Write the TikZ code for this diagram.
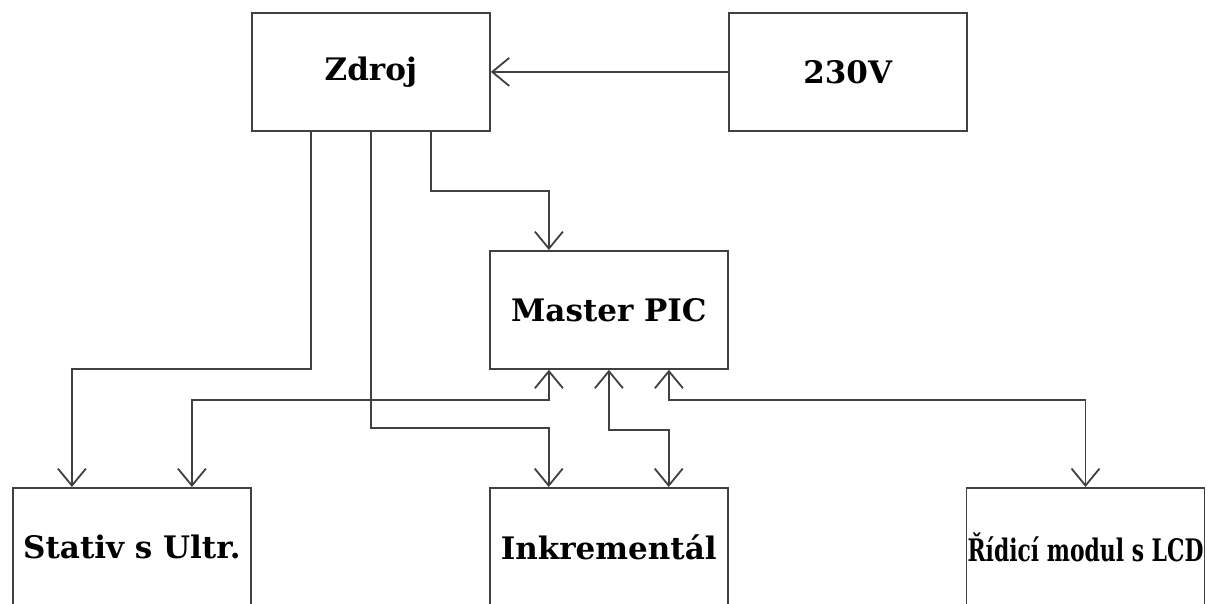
\documentclass[tikz,border=0pt]{standalone}
\usepackage{fontspec}
\setmainfont{DejaVu Serif}
\usepackage{graphicx}
\usetikzlibrary{arrows.meta,positioning}

\begin{document}
\begin{tikzpicture}[
  x=1pt, y=-1pt,
  block/.style={rectangle, draw=black!75, line width=1.8pt, minimum width=238pt, minimum height=118pt, inner sep=0pt, align=center, font=\fontsize{31}{36}\selectfont\bfseries},
  arrow/.style={-{Straight Barb[length=17pt,width=28pt]}, draw=black!75, line width=1.8pt},
  dblarrow/.style={{Straight Barb[length=17pt,width=28pt]}-{Straight Barb[length=17pt,width=28pt]}, draw=black!75, line width=1.8pt}
]
\useasboundingbox (0,0) rectangle (1207,603);
\node[block, anchor=north west] (zdroj) at (251,12) {Zdroj};
\node[block, right=237pt of zdroj] (sit) {230V};
\node[block, anchor=north west] (master) at (489,250) {Master PIC};
\node[block, anchor=north west] (stativ) at (12,487) {Stativ s Ultr.};
\node[block, right=237pt of stativ] (inkr) {Inkrementál};
\node[block, right=237pt of inkr] (ridici) {\resizebox{236pt}{\height}{Řídicí modul s LCD}};
\draw[arrow] (sit) -- (zdroj);
\draw[arrow] ([xshift=60pt]zdroj.south) -- ++(0,59) -| ([xshift=-60pt]master.north);
\draw[arrow] ([xshift=-60pt]zdroj.south) -- ++(0,237) -| ([xshift=-60pt]stativ.north);
\draw[arrow] (zdroj.south) -- ++(0,296) -| ([xshift=-60pt]inkr.north);
\draw[dblarrow] ([xshift=-60pt]master.south) -- ++(0,30) -| ([xshift=60pt]stativ.north);
\draw[dblarrow] (master.south) -- ++(0,60) -| ([xshift=60pt]inkr.north);
\draw[dblarrow] ([xshift=60pt]master.south) -- ++(0,30) -| (ridici.north);
\end{tikzpicture}
\end{document}
